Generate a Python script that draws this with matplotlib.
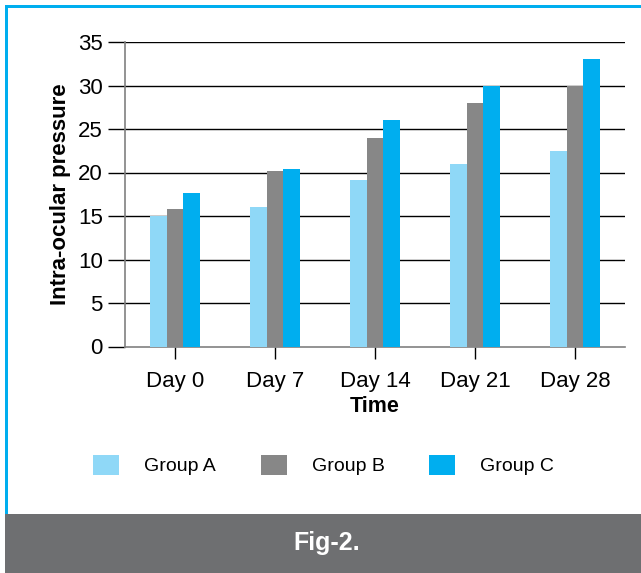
import numpy as np
import matplotlib
matplotlib.use("Agg")
import matplotlib.pyplot as plt
from matplotlib.patches import Rectangle, Patch

plt.rcParams["font.family"] = ["Liberation Sans", "DejaVu Sans"]

# --------------------------------------------------------------------------
# Data
# --------------------------------------------------------------------------
days = ["Day 0", "Day 7", "Day 14", "Day 21", "Day 28"]
groups = ["Group A", "Group B", "Group C"]
group_a = [15.0, 16.0, 19.1, 21.0, 22.5]
group_b = [15.8, 20.2, 24.0, 28.0, 30.0]
group_c = [17.6, 20.4, 26.0, 30.0, 33.0]
y_ticks = [0, 5, 10, 15, 20, 25, 30, 35]

colors = ["#8fd8f7", "#878787", "#00aeef"]
border_blue = "#00aeef"
footer_gray = "#6e6f71"

# --------------------------------------------------------------------------
# Figure
# --------------------------------------------------------------------------
W, H = 641, 573
fig = plt.figure(figsize=(W / 100, H / 100), dpi=100)

# frame: blue line top and left, gray caption band at the bottom
fig.add_artist(Rectangle((5 / W, 0), 636 / W, 1 - 5 / H, transform=fig.transFigure,
                         facecolor="white", edgecolor="none", zorder=0))
fig.add_artist(Rectangle((5 / W, 1 - 8 / H), 636 / W, 3 / H, transform=fig.transFigure,
                         facecolor=border_blue, edgecolor="none", zorder=1))
fig.add_artist(Rectangle((5 / W, 0), 3 / W, 1 - 5 / H, transform=fig.transFigure,
                         facecolor=border_blue, edgecolor="none", zorder=1))
fig.add_artist(Rectangle((5 / W, 0), 636 / W, 59 / H, transform=fig.transFigure,
                         facecolor=footer_gray, edgecolor="none", zorder=2))
fig.text(327 / W, 30 / H, "Fig-2.", color="white", fontsize=18, fontweight="bold",
         ha="center", va="center", zorder=3)

# --------------------------------------------------------------------------
# Bars
# --------------------------------------------------------------------------
ax = fig.add_axes([125 / W, 226.5 / H, 500 / W, 304.5 / H])
x = np.arange(len(days))
bw = 0.167
for i, (vals, c, name) in enumerate(zip([group_a, group_b, group_c], colors, groups)):
    ax.bar(x + (i - 1) * bw, vals, width=bw, color=c, label=name, zorder=3)

ax.set_xlim(-0.5, len(days) - 0.5)
ax.set_ylim(0, 35)
ax.set_yticks(y_ticks)
ax.set_xticks(x)
ax.set_xticklabels(days)
ax.tick_params(axis="y", length=12.5, width=1, color="black", labelsize=16, pad=3.5)
ax.tick_params(axis="x", length=8.5, width=1, color="black", labelsize=16, pad=9)

# horizontal gridlines except at zero
for yv in y_ticks[1:]:
    ax.axhline(yv, color="black", lw=1, zorder=1)

for side in ["top", "right"]:
    ax.spines[side].set_visible(False)
for side in ["left", "bottom"]:
    ax.spines[side].set_color("#808080")
    ax.spines[side].set_linewidth(1.2)

ax.set_xlabel("Time", fontsize=15.5, fontweight="bold", labelpad=3)
ax.set_ylabel("Intra-ocular pressure", fontsize=16, fontweight="bold", labelpad=5)

handles = [Patch(facecolor=c, edgecolor="none") for c in colors]
fig.legend(handles, groups, loc="center left", bbox_to_anchor=(93 / W, 1 - 465 / H),
           ncol=3, frameon=False, fontsize=14, handlelength=1.34, handleheight=1.19,
           handletextpad=1.29, columnspacing=2.3, borderpad=0, borderaxespad=0)

fig.savefig("out.png", dpi=100)
